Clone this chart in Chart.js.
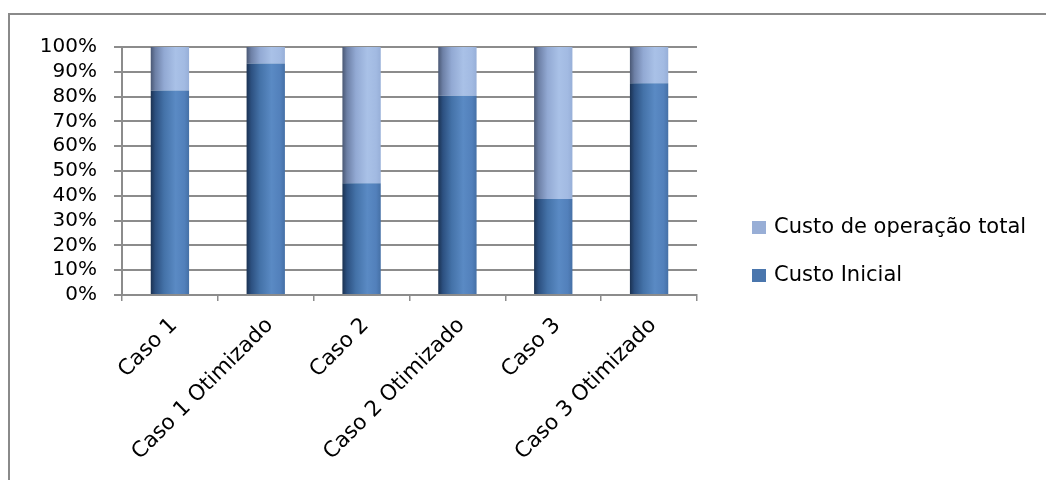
<!DOCTYPE html>
<html>
<head>
<meta charset="utf-8">
<script src="https://cdn.jsdelivr.net/npm/chart.js@4"></script>
<style>
    html, body { margin: 0; padding: 0; background: #fff; }
    #wrap { position: relative; width: 1046px; height: 480px; overflow: hidden; }
    #frame { position: absolute; left: 8px; top: 13px; width: 1100px; height: 500px;
             border-left: 2px solid #8a8a8a; border-top: 2px solid #8a8a8a; }
    #chart { position: absolute; left: 0; top: 0; }
    .legend { position: absolute; left: 752px; font-family: 'DejaVu Sans', sans-serif; font-size: 21px; color: #000; }
    .legend span.box { display: inline-block; width: 14px; height: 13px; margin-right: 8px; vertical-align: -1px; }
</style>
</head>
<body>
<div id="wrap">
    <div id="frame"></div>
    <canvas id="chart" width="1046" height="480"></canvas>
    <div class="legend" id="legOp" style="top:214px"><span class="box" style="background:#98aed6"></span>Custo de operação total</div>
    <div class="legend" id="legIni" style="top:262px"><span class="box" style="background:#4a76ad"></span>Custo Inicial</div>
</div>
<script>
// dados (percentuais)
const categories = ['Caso 1', 'Caso 1 Otimizado', 'Caso 2', 'Caso 2 Otimizado', 'Caso 3', 'Caso 3 Otimizado'];
const custoInicial = [82.5, 93.3, 45.1, 80.3, 38.7, 85.4];
const custoOperacao = [17.5, 6.7, 54.9, 19.7, 61.3, 14.6];
const yTicks = [0, 10, 20, 30, 40, 50, 60, 70, 80, 90, 100];

const barPct = 0.4;
const gridColor = '#8c8c8c';

// gradiente horizontal em cada barra (efeito cilindro do Excel)
function barGradient(stops, flat) {
    return (ctx) => {
        const chart = ctx.chart;
        const xs = chart.scales.x;
        if (!xs || ctx.dataIndex === undefined) return flat;
        const cx = xs.getPixelForValue(ctx.dataIndex);
        const w = (xs.width / categories.length) * barPct;
        if (!isFinite(cx) || !isFinite(w) || w <= 0) return flat;
        const g = chart.ctx.createLinearGradient(cx - w / 2, 0, cx + w / 2, 0);
        stops.forEach(([o, c]) => g.addColorStop(o, c));
        return g;
    };
}

const inicialStops = [[0, '#1b3252'], [0.12, '#2c5080'], [0.35, '#4472a8'], [0.65, '#5a8ac4'], [0.88, '#5280bb'], [1, '#4570a6']];
const operacaoStops = [[0, '#4a5874'], [0.12, '#6d80a6'], [0.35, '#92a9d3'], [0.65, '#a9c1e7'], [0.88, '#a2bae2'], [1, '#97afd8']];

new Chart(document.getElementById('chart').getContext('2d'), {
    type: 'bar',
    data: {
        labels: categories,
        datasets: [
            { label: 'Custo Inicial', data: custoInicial, backgroundColor: barGradient(inicialStops, '#4a76ad'),
              barPercentage: barPct, categoryPercentage: 1 },
            { label: 'Custo de operação total', data: custoOperacao, backgroundColor: barGradient(operacaoStops, '#98aed6'),
              barPercentage: barPct, categoryPercentage: 1 }
        ]
    },
    options: {
        responsive: false,
        animation: false,
        layout: { padding: { top: 47, right: 349, bottom: 0, left: 0 } },
        plugins: { legend: { display: false }, tooltip: { enabled: false } },
        scales: {
            x: {
                stacked: true,
                grid: { drawOnChartArea: false, drawTicks: true, tickLength: 6, color: gridColor, lineWidth: 1.5, offset: true },
                border: { color: gridColor, width: 2 },
                ticks: { minRotation: 45, maxRotation: 45, autoSkip: false, color: '#000',
                         font: { family: 'DejaVu Sans', size: 21.5 }, padding: 12, labelOffset: 4 },
                afterFit: (s) => { s.height = 185; }
            },
            y: {
                stacked: true,
                min: 0,
                max: 100,
                afterBuildTicks: (s) => { s.ticks = yTicks.map(v => ({ value: v })); },
                ticks: { autoSkip: false, color: '#000', font: { family: 'DejaVu Sans', size: 20 }, padding: 17,
                         callback: (v) => v + '%' },
                grid: { color: gridColor, lineWidth: 2, tickLength: 8 },
                border: { color: gridColor, width: 2 },
                afterFit: (s) => { s.width = 122; }
            }
        }
    }
});
</script>
</body>
</html>
